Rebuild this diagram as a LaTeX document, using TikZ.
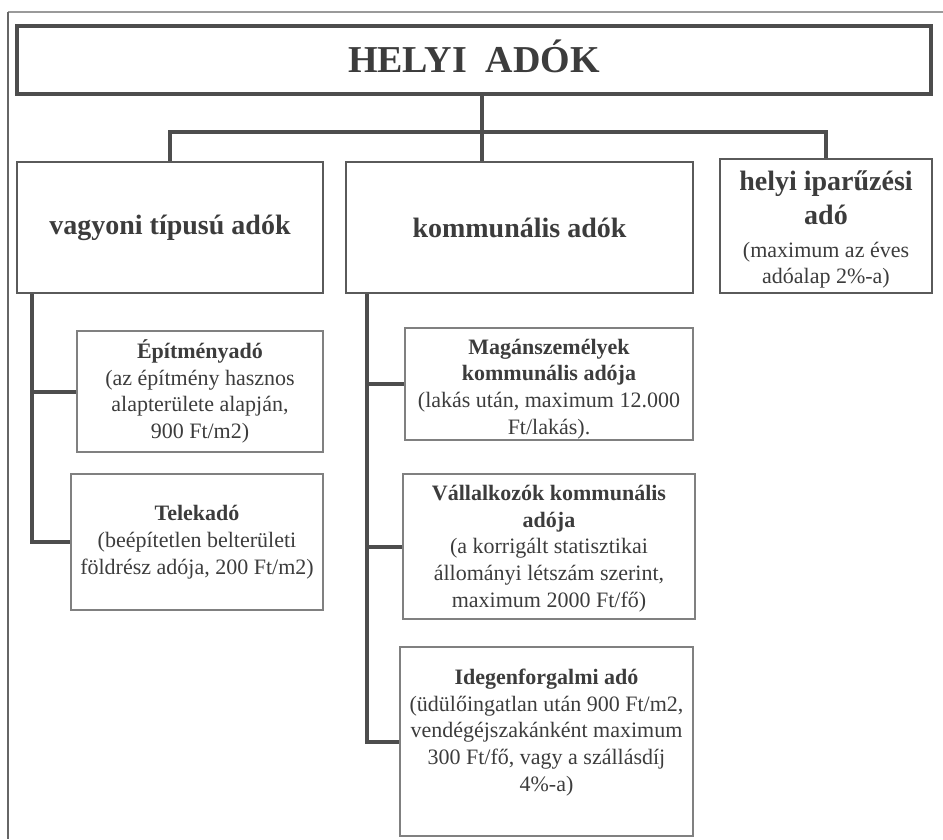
\documentclass[tikz,border=0pt]{standalone}
\usepackage{fontspec}
\setmainfont{Liberation Serif}
\definecolor{ink}{HTML}{3C3C3C}
\definecolor{linegray}{HTML}{4D4D4D}
\definecolor{boxgray}{HTML}{5A5A5A}
\definecolor{subgray}{HTML}{808080}
\definecolor{framegray}{HTML}{9A9A9A}
\begin{document}
\begin{tikzpicture}[x=1pt,y=-1pt,
  every node/.style={text=ink, inner sep=0pt},
  conn/.style={draw=linegray, line width=4pt},
  titlebox/.style={draw=linegray, line width=4pt, font=\fontsize{38}{44}\selectfont\bfseries},
  catbox/.style={draw=boxgray, line width=2pt, align=flush center, font=\fontsize{28}{34}\selectfont\bfseries},
  subbox/.style={draw=subgray, line width=1.4pt, align=center, font=\fontsize{22}{26.7}\selectfont},
  txt/.style={align=center, font=\fontsize{22}{26.7}\selectfont}]

\useasboundingbox (0,0) rectangle (943,839);

% page frame
\draw[draw=framegray, line width=1.4pt] (8,12) -- (943,12);
\draw[draw=gray!80!black, line width=1.6pt] (8,12) -- (8,839);

% title
\node[titlebox, minimum width=914, minimum height=68, text height=25, text depth=0pt] (title) at (474,60) {HELYI\ \ ADÓK};

% categories
\node[catbox, minimum width=306, minimum height=131] (vag) at (170,227.5) {vagyoni típusú adók};
\node[catbox, minimum width=347, minimum height=131] (kom) at (519.5,227.5) {kommunális adók};
\node[catbox, minimum width=212, minimum height=134, text width=206] (helyi) at (826,226) {};
\node[align=flush center, text width=206, font=\fontsize{28}{34}\selectfont\bfseries] (helyitxt) at (826,229)
  {helyi iparűzési\\adó\par\vspace{7pt}\fontsize{22}{26}\selectfont\mdseries (maximum az éves\\adóalap 2\%-a)\par};

% property taxes
\node[subbox, minimum width=246, minimum height=121] (epit) at (200,391.5)
  {\textbf{Építményadó}\\(az építmény hasznos\\alapterülete alapján,\\900 Ft/m2)};
\node[subbox, minimum width=252, minimum height=136] (telek) at (197,542)
  {\textbf{Telekadó}\\(beépítetlen belterületi\\földrész adója, 200 Ft/m2)};

% communal taxes
\node[subbox, minimum width=288, minimum height=112] (mag) at (549,384) {};
\node[txt] (magtxt) at (549,389)
  {\textbf{Magánszemélyek}\\\textbf{kommunális adója}\\(lakás után, maximum 12.000\\Ft/lakás).};
\node[subbox, minimum width=292, minimum height=145] (vall) at (549,546.5) {};
\node[txt] (valltxt) at (549,548.5)
  {\textbf{Vállalkozók kommunális}\\\textbf{adója}\\(a korrigált statisztikai\\állományi létszám szerint,\\maximum 2000 Ft/fő)};
\node[subbox, minimum width=293, minimum height=189] (ideg) at (546.5,741.5) {};
\node[txt] (idegtxt) at (546.5,732.5)
  {\textbf{Idegenforgalmi adó}\\(üdülőingatlan után 900 Ft/m2,\\vendégéjszakánként maximum\\300 Ft/fő, vagy a szállásdíj\\4\%-a)};

% connector rails
\coordinate (bus) at (482,132);
\coordinate (lrail) at (32,0);
\coordinate (mrail) at (367,0);

\draw[conn] (vag.north) -- (vag.north |- bus) -- (helyi.north |- bus) -- (helyi.north);
\draw[conn] (title.south -| bus) -- (kom.north -| bus);

\draw[conn] (vag.south -| lrail) |- (telek.west);
\draw[conn] (lrail |- epit.west) -- (epit.west);

\draw[conn] (kom.south -| mrail) |- (ideg.west);
\draw[conn] (mrail |- mag.west) -- (mag.west);
\draw[conn] (mrail |- vall.west) -- (vall.west);

\end{tikzpicture}
\end{document}
